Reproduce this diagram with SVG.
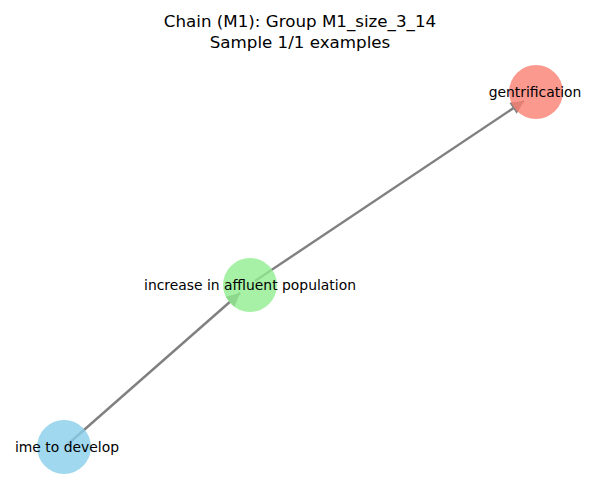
<svg xmlns="http://www.w3.org/2000/svg" width="600" height="500" viewBox="0 0 600 500">
<style>
.title{font-family:"DejaVu Sans",sans-serif;font-size:16.7px;fill:#000;text-anchor:middle}
.lbl{font-family:"DejaVu Sans",sans-serif;font-size:13.9px;fill:#000;text-anchor:middle}
.edge{stroke:#808080;stroke-width:2.4;fill:none}
.node{stroke:none}
</style>
<defs>
<marker id="arr" viewBox="0 0 10 10" refX="10" refY="5" markerWidth="7" markerHeight="5.5" markerUnits="strokeWidth" orient="auto">
<path d="M0,0 L10,5 L0,10 z" fill="#808080"/>
</marker>
</defs>
<rect width="600" height="500" fill="#fff"/>
<text class="title" x="300" y="27">Chain (M1): Group M1_size_3_14</text>
<text class="title" x="300" y="48">Sample 1/1 examples</text>
<g id="edges">
<line class="edge" x1="68" y1="444" x2="240" y2="293" marker-end="url(#arr)"/>
<line class="edge" x1="255" y1="281" x2="524" y2="101" marker-end="url(#arr)"/>
</g>
<g id="n_time">
<circle class="node" cx="64" cy="447" r="27" fill="#87ceeb" fill-opacity="0.8"/>
<text class="lbl" x="67" y="452">ime to develop</text>
</g>
<g id="n_increase">
<circle class="node" cx="250" cy="285" r="27" fill="#90ee90" fill-opacity="0.8"/>
<text class="lbl" x="250" y="290">increase in affluent population</text>
</g>
<g id="n_gentrification">
<circle class="node" cx="536" cy="92" r="27" fill="#fa8072" fill-opacity="0.8"/>
<text class="lbl" x="535" y="97">gentrification</text>
</g>
</svg>
